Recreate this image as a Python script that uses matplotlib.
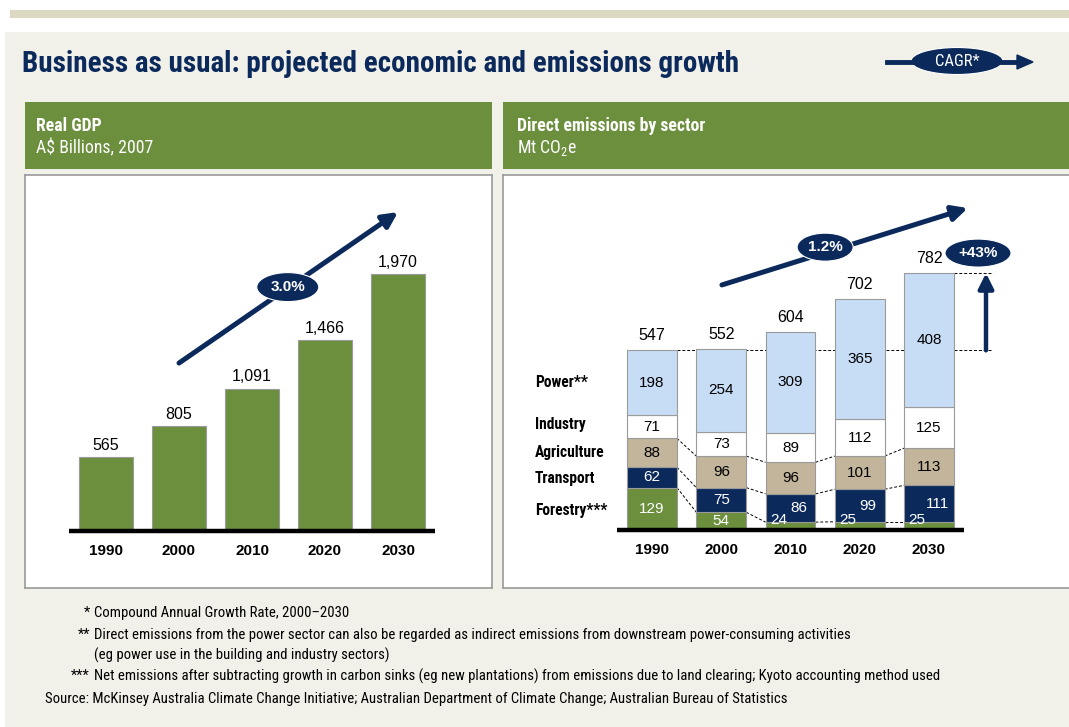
import matplotlib.pyplot as plt
import matplotlib.patches as patches

# ---- data ----
years = ["1990", "2000", "2010", "2020", "2030"]
gdp = [565, 805, 1091, 1466, 1970]
gdp_labels = ["565", "805", "1,091", "1,466", "1,970"]

sectors = ["Forestry***", "Transport", "Agriculture", "Industry", "Power**"]
forestry = [129, 54, 24, 25, 25]
transport = [62, 75, 86, 99, 111]
agriculture = [88, 96, 96, 101, 113]
industry = [71, 73, 89, 112, 125]
power = [198, 254, 309, 365, 408]
totals = [547, 552, 604, 702, 782]

gdp_cagr = "3.0%"
emis_cagr = "1.2%"
emis_growth = "+43%"

footnotes = [
    ("*", "Compound Annual Growth Rate, 2000\u20132030"),
    ("**", "Direct emissions from the power sector can also be regarded as indirect emissions from downstream power-consuming activities"),
    ("", "(eg power use in the building and industry sectors)"),
    ("***", "Net emissions after subtracting growth in carbon sinks (eg new plantations) from emissions due to land clearing; Kyoto accounting method used"),
]
source = "Source: McKinsey Australia Climate Change Initiative; Australian Department of Climate Change; Australian Bureau of Statistics"

# ---- style ----
NAVY = "#0b2a5b"
GREEN = "#6b8f3d"
TAN = "#c3b59b"
LBLUE = "#c7ddf5"
BG = "#f1f0e9"
EDGE = "#9a9a9a"
COND = ["Roboto Condensed", "DejaVu Sans"]
NUM = ["Liberation Sans", "DejaVu Sans"]

plt.rcParams["font.family"] = COND
plt.rcParams["mathtext.fontset"] = "custom"
plt.rcParams["mathtext.rm"] = "Roboto Condensed"

W, H = 1069, 727
fig = plt.figure(figsize=(W / 100, H / 100), dpi=100)
fig.patch.set_facecolor("white")


def fx(x):
    return x / W


def fy(y):
    return 1 - y / H


def frect(x0, y0, x1, y1, **kw):
    fig.add_artist(patches.Rectangle((fx(x0), fy(y1)), fx(x1 - x0), (y1 - y0) / H,
                                     transform=fig.transFigure, zorder=-10, **kw))


# background panels
frect(10, 10, W, 18, facecolor="#dcd9c2", edgecolor="none")
frect(5, 32, W, H, facecolor=BG, edgecolor="none")

# title
fig.text(fx(22), fy(64), "Business as usual: projected economic and emissions growth",
         fontsize=21, fontweight="bold", color=NAVY, va="center", ha="left")

# CAGR legend marker
fig.add_artist(plt.Line2D([fx(887), fx(1018)], [fy(62), fy(62)], color=NAVY, lw=3.5,
                          transform=fig.transFigure))
fig.add_artist(patches.Polygon([(fx(1017), fy(55)), (fx(1033), fy(62)), (fx(1017), fy(69))],
                               closed=True, color=NAVY, transform=fig.transFigure))
fig.add_artist(patches.Ellipse((fx(957), fy(61)), fx(92), 27 / H, facecolor=NAVY,
                               edgecolor="white", lw=0.8, transform=fig.transFigure))
fig.text(fx(957), fy(61), "CAGR*", color="white", fontsize=12, ha="center", va="center")

# panel headers
frect(25, 102, 492, 169, facecolor=GREEN, edgecolor="none")
frect(503, 102, W, 169, facecolor=GREEN, edgecolor="none")
fig.text(fx(36), fy(126), "Real GDP", color="white", fontsize=12.8, fontweight="bold", va="center")
fig.text(fx(36), fy(148), "A$ Billions, 2007", color="white", fontsize=12.8, va="center")
fig.text(fx(517), fy(126), "Direct emissions by sector", color="white", fontsize=12.8,
         fontweight="bold", va="center")
fig.text(fx(517), fy(148), "Mt CO$_2$e", color="white", fontsize=12.8, va="center")


def make_axes(x0, y0, x1, y1):
    ax = fig.add_axes([fx(x0), fy(y1), fx(x1 - x0), (y1 - y0) / H])
    ax.set_facecolor("white")
    for s in ax.spines.values():
        s.set_color(EDGE)
        s.set_linewidth(1.2)
    ax.set_xticks([])
    ax.set_yticks([])
    return ax


# ---- left: GDP ----
axL = make_axes(25, 175, 492, 588)
c0, step, base_px, ppu = 106, 73, 531, 0.1305
axL.set_xlim((25 - c0) / step, (492 - c0) / step)
axL.set_ylim(-(588 - base_px) / ppu, (base_px - 175) / ppu)
xs = range(len(years))
axL.bar(xs, gdp, width=0.74, color=GREEN, edgecolor=EDGE, linewidth=0.8, zorder=2)
axL.plot([(69 - c0) / step, (435 - c0) / step], [0, 0], color="black", lw=3.2, zorder=3,
         solid_capstyle="butt")
for i, (v, lab) in enumerate(zip(gdp, gdp_labels)):
    axL.annotate(lab, (i, v), xytext=(0, 3), textcoords="offset points",
                 ha="center", va="bottom", fontsize=11.5, family=NUM)
    axL.text(i, -20 / ppu, years[i], ha="center", va="center", fontsize=11,
             fontweight="bold", family=NUM)
axL.annotate("", xy=(4.0, 2444), xytext=(1.0, 1287),
             arrowprops=dict(arrowstyle="-|>,head_length=0.9,head_width=0.45",
                             color=NAVY, lw=3.6, shrinkA=0, shrinkB=0), zorder=4)
axL.add_patch(patches.Ellipse((2.49, 1869), 62 / step, 29 / ppu, facecolor=NAVY,
                              edgecolor="white", lw=0.8, zorder=5))
axL.text(2.49, 1869, gdp_cagr, color="white", fontsize=11, fontweight="bold",
         ha="center", va="center", zorder=6, family=NUM)

# ---- right: emissions ----
axR = make_axes(503, 175, W + 5, 588)
c0, step, base_px, ppu = 652, 69.25, 530, 0.3285
axR.set_xlim((503 - c0) / step, (W + 5 - c0) / step)
axR.set_ylim(-(588 - base_px) / ppu, (base_px - 175) / ppu)

layers = [forestry, transport, agriculture, industry, power]
colors = [GREEN, NAVY, TAN, "white", LBLUE]
text_colors = ["white", "white", "black", "black", "black"]
bw = 0.72
bottoms = [0] * len(years)
tops_by_layer = []
for vals, col, tc in zip(layers, colors, text_colors):
    axR.bar(xs, vals, width=bw, bottom=bottoms, color=col, edgecolor=EDGE,
            linewidth=0.8, zorder=2)
    for i, v in enumerate(vals):
        x, y = i, bottoms[i] + v / 2
        if vals is forestry and v < 30:
            x, y = i - 0.17, 30
        elif vals is transport and forestry[i] < 30:
            x = i + 0.12
        axR.text(x, y, str(v), color=tc, fontsize=11, ha="center", va="center",
                 zorder=4, family=NUM)
    bottoms = [b + v for b, v in zip(bottoms, vals)]
    tops_by_layer.append(list(bottoms))

# dashed connectors for forestry / transport / agriculture tops
for tops in tops_by_layer[:3]:
    for i in range(len(years) - 1):
        axR.plot([i + bw / 2, i + 1 - bw / 2], [tops[i], tops[i + 1]], color="black",
                 lw=0.7, ls=(0, (3, 2)), zorder=1)

x_ref_end = (993 - c0) / step
axR.plot([bw / 2, x_ref_end], [totals[0], totals[0]], color="black", lw=0.7,
         ls=(0, (3, 2)), zorder=1)
axR.plot([4 + bw / 2, x_ref_end], [totals[-1], totals[-1]], color="black", lw=0.7,
         ls=(0, (3, 2)), zorder=1)

for i, t in enumerate(totals):
    axR.annotate(str(t), (i, t), xytext=(0, 5), textcoords="offset points",
                 ha="center", va="bottom", fontsize=11.5, family=NUM)
    axR.text(i, -20 / ppu, years[i], ha="center", va="center", fontsize=11,
             fontweight="bold", family=NUM)

axR.plot([(617 - c0) / step, (964 - c0) / step], [0, 0], color="black", lw=3.2, zorder=3,
         solid_capstyle="butt")

label_x = (535 - c0) / step
for name, y in zip(sectors, [60, 158, 235, 320, 449]):
    axR.text(label_x, y, name, ha="left", va="center", fontsize=11.2, fontweight="bold")

axR.annotate("", xy=(4.56, 980), xytext=(1.01, 746),
             arrowprops=dict(arrowstyle="-|>,head_length=0.9,head_width=0.45",
                             color=NAVY, lw=3.6, shrinkA=0, shrinkB=0), zorder=4)
axR.add_patch(patches.Ellipse((2.5, 861), 56 / step, 28 / ppu, facecolor=NAVY,
                              edgecolor="white", lw=0.8, zorder=5))
axR.text(2.5, 861, emis_cagr, color="white", fontsize=11, fontweight="bold",
         ha="center", va="center", zorder=6, family=NUM)

x_up = (986 - c0) / step
axR.annotate("", xy=(x_up, totals[-1]), xytext=(x_up, totals[0]),
             arrowprops=dict(arrowstyle="-|>,head_length=0.9,head_width=0.45",
                             color=NAVY, lw=3.2, shrinkA=0, shrinkB=0), zorder=4)
axR.add_patch(patches.Ellipse(((978 - c0) / step, 843), 66 / step, 28 / ppu,
                              facecolor=NAVY, edgecolor="white", lw=0.8, zorder=5))
axR.text((978 - c0) / step, 843, emis_growth, color="white", fontsize=11, fontweight="bold",
         ha="center", va="center", zorder=6, family=NUM)

# ---- footnotes ----
for (mark, txt), y in zip(footnotes, [613, 635, 655, 676]):
    if mark:
        fig.text(fx(90), fy(y), mark, ha="right", va="center", fontsize=10.6)
    fig.text(fx(94), fy(y), txt, ha="left", va="center", fontsize=10.6)
fig.text(fx(45), fy(699), source, ha="left", va="center", fontsize=10.6)

fig.savefig("out.png", dpi=100)
